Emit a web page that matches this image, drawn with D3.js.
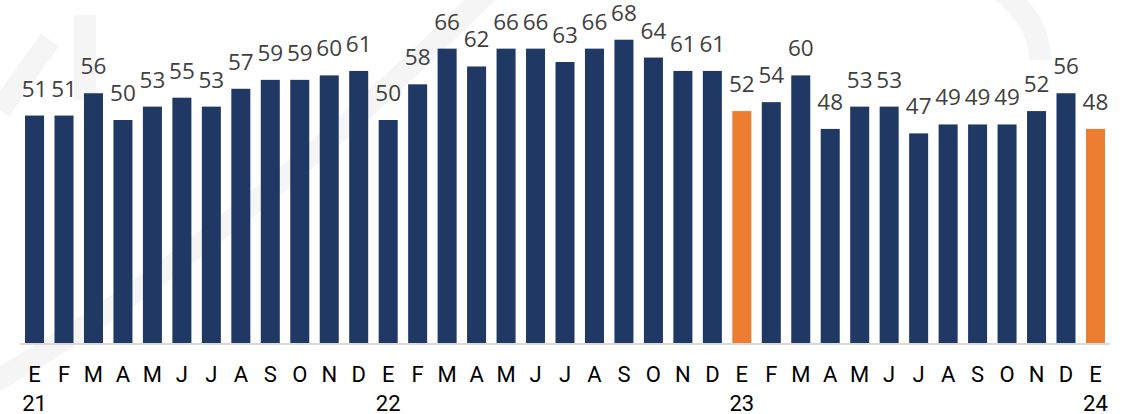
<!DOCTYPE html>
<html>
<head>
<meta charset="utf-8">
<script src="https://cdn.jsdelivr.net/npm/d3@7"></script>
<style>
  html, body { margin: 0; padding: 0; background: #ffffff; }
  svg { display: block; }
</style>
</head>
<body>
<svg id="chart" width="1128" height="414"></svg>
<script>
const months = ["E","F","M","A","M","J","J","A","S","O","N","D",
                "E","F","M","A","M","J","J","A","S","O","N","D",
                "E","F","M","A","M","J","J","A","S","O","N","D",
                "E"];
const years = ["21","","","","","","","","","","","",
               "22","","","","","","","","","","","",
               "23","","","","","","","","","","","",
               "24"];
const values = [51,51,56,50,53,55,53,57,59,59,60,61,
                50,58,66,62,66,66,63,66,68,64,61,61,
                52,54,60,48,53,53,47,49,49,49,52,56,
                48];
const highlight = [24, 36];

const svg = d3.select("#chart");

// faint background watermark
const wm = svg.append("g").attr("fill", "none").attr("stroke", "#f5f5f5").attr("stroke-width", 22);
wm.append("path").attr("d", "M -20 390 Q 230 250 500 -20");
wm.append("path").attr("d", "M 0 110 L 50 40 M 85 15 L 85 100");
wm.append("path").attr("d", "M 1000 -10 Q 1040 20 1040 60");

const idx = values.map((d, i) => i);
const x = d3.scaleBand().domain(idx).range([19.8, 1110.2]).paddingInner(0.355).paddingOuter(0.1775);
const y = d3.scaleLinear().domain([0, 70]).range([343, 343 - 70 * 4.46]);

svg.append("g").selectAll("rect").data(values).join("rect")
  .attr("x", (d, i) => x(i))
  .attr("width", x.bandwidth())
  .attr("y", d => y(d))
  .attr("height", d => y(0) - y(d))
  .attr("fill", (d, i) => highlight.includes(i) ? "#ed7d31" : "#203864");

// baseline
svg.append("line")
  .attr("x1", 20).attr("x2", 1110)
  .attr("y1", 344).attr("y2", 344)
  .attr("stroke", "#d9d9d9").attr("stroke-width", 2);

// data labels
svg.append("g").selectAll("text").data(values).join("text")
  .attr("x", (d, i) => x(i) + x.bandwidth() / 2)
  .attr("y", d => y(d) - 19)
  .attr("text-anchor", "middle")
  .attr("font-family", "'Open Sans', sans-serif")
  .attr("font-size", 22.5)
  .attr("fill", "#404040")
  .text(d => d);

// x axis labels
const axis = d3.axisBottom(x).tickSize(0).tickFormat(i => months[i]);
const ag = svg.append("g").attr("transform", "translate(0,344)").call(axis);
ag.select(".domain").remove();
ag.selectAll("text")
  .attr("font-family", "Roboto, sans-serif")
  .attr("font-size", 22)
  .attr("fill", "#000000")
  .attr("dy", 0)
  .attr("y", 37.5)
  .each(function(i) {
    if (years[i]) {
      d3.select(this.parentNode).append("text")
        .attr("y", 67)
        .attr("text-anchor", "middle")
        .attr("font-family", "Roboto, sans-serif")
        .attr("font-size", 22)
        .attr("fill", "#000000")
        .text(years[i]);
    }
  });
</script>
</body>
</html>
